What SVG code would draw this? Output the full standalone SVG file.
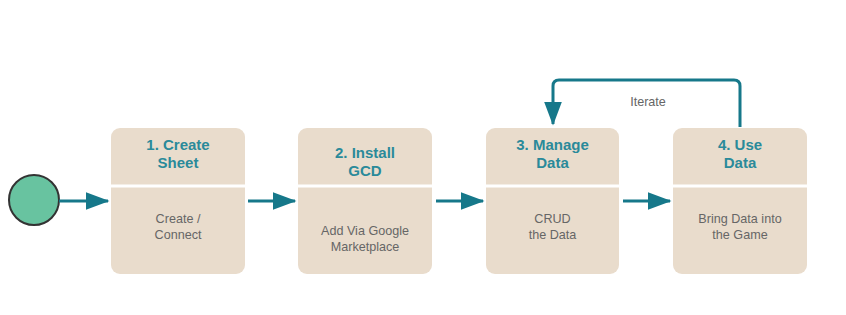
<svg xmlns="http://www.w3.org/2000/svg" width="846" height="315" viewBox="0 0 846 315">
<style>
.box{fill:#e9dccc}
.div{stroke:#ffffff;stroke-width:3}
.title{font-family:"Liberation Sans",Arial,sans-serif;font-size:15px;font-weight:bold;fill:#2a8a9a;text-anchor:middle}
.body{font-family:"Liberation Sans",Arial,sans-serif;font-size:12.6px;fill:#666666;text-anchor:middle}
.conn{stroke:#16788a;stroke-width:3;fill:none}
</style>
<defs>
<marker id="ah" markerWidth="8" markerHeight="6" refX="7.5" refY="3" orient="auto" markerUnits="strokeWidth">
<path d="M0,0 L8,3 L0,6 Z" fill="#16788a"/>
</marker>
</defs>
<rect width="846" height="315" fill="#ffffff"/>
<g id="start">
<circle cx="34" cy="200" r="25" fill="#68c3a0" stroke="#333333" stroke-width="2"/>
</g>
<g id="n1">
<rect class="box" x="111" y="128" width="134" height="146" rx="9"/>
<line class="div" x1="111" y1="186" x2="245" y2="186"/>
<text class="title" x="178" y="150">1. Create</text>
<text class="title" x="178" y="168">Sheet</text>
<text class="body" x="178" y="223">Create /</text>
<text class="body" x="178" y="239">Connect</text>
</g>
<g id="n2">
<rect class="box" x="298" y="128" width="134" height="146" rx="9"/>
<line class="div" x1="298" y1="186" x2="432" y2="186"/>
<text class="title" x="365" y="158">2. Install</text>
<text class="title" x="365" y="176">GCD</text>
<text class="body" x="365" y="235">Add Via Google</text>
<text class="body" x="365" y="251">Marketplace</text>
</g>
<g id="n3">
<rect class="box" x="486" y="128" width="133" height="146" rx="9"/>
<line class="div" x1="486" y1="186" x2="619" y2="186"/>
<text class="title" x="552.5" y="150">3. Manage</text>
<text class="title" x="552.5" y="168">Data</text>
<text class="body" x="552.5" y="223">CRUD</text>
<text class="body" x="552.5" y="239">the Data</text>
</g>
<g id="n4">
<rect class="box" x="673" y="128" width="134" height="146" rx="9"/>
<line class="div" x1="673" y1="186" x2="807" y2="186"/>
<text class="title" x="740" y="150">4. Use</text>
<text class="title" x="740" y="168">Data</text>
<text class="body" x="740" y="223">Bring Data into</text>
<text class="body" x="740" y="239">the Game</text>
</g>
<g id="connectors">
<line class="conn" x1="59" y1="201" x2="108" y2="201" marker-end="url(#ah)"/>
<line class="conn" x1="248" y1="201" x2="295" y2="201" marker-end="url(#ah)"/>
<line class="conn" x1="436" y1="201" x2="483" y2="201" marker-end="url(#ah)"/>
<line class="conn" x1="623" y1="201" x2="670" y2="201" marker-end="url(#ah)"/>
<path class="conn" d="M740,127 V86 Q740,80 734,80 H559 Q553,80 553,86 V124" marker-end="url(#ah)"/>
<text class="body" x="648" y="106">Iterate</text>
</g>
</svg>
